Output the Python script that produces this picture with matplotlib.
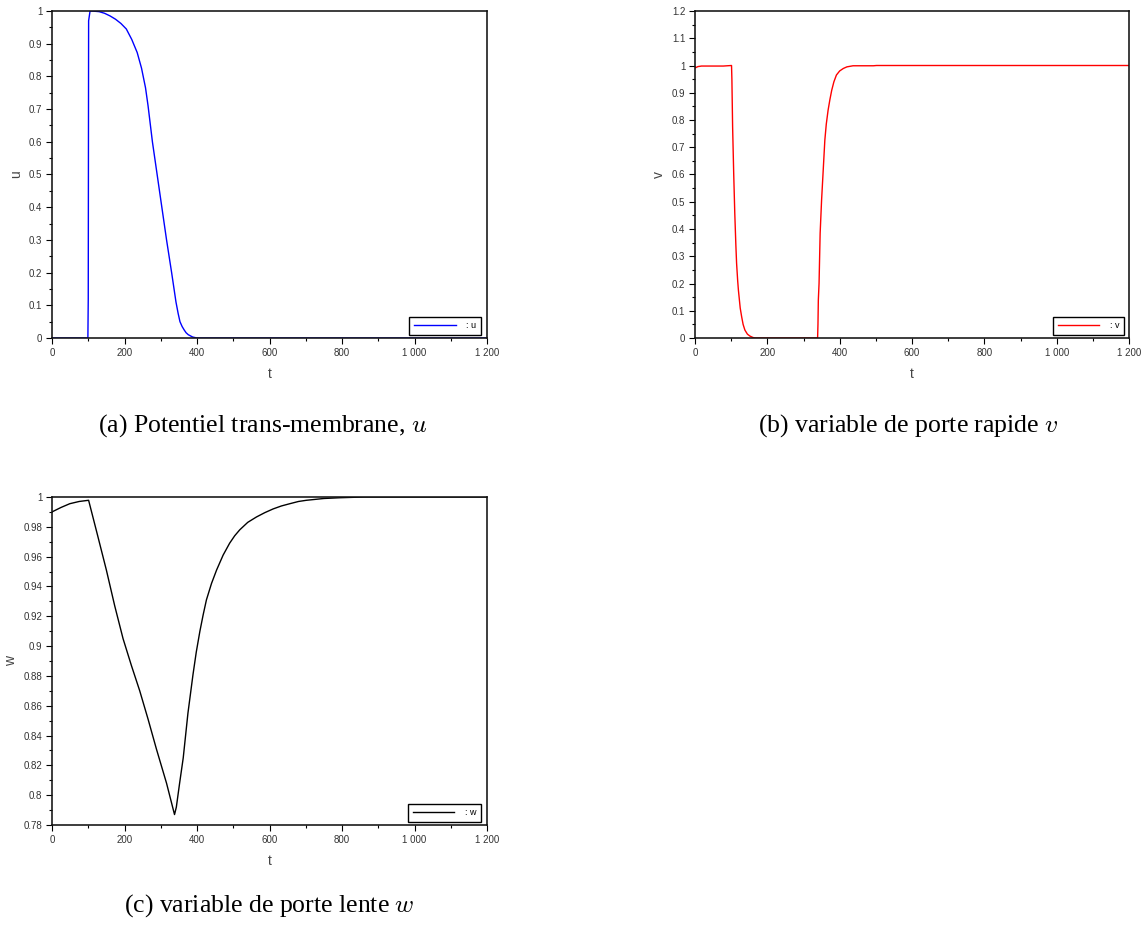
import matplotlib
matplotlib.use("Agg")
import matplotlib.pyplot as plt
from matplotlib.ticker import FixedLocator, MultipleLocator, FuncFormatter

plt.rcParams["mathtext.fontset"] = "cm"

# --- data -------------------------------------------------------------------
t_u = [0, 99, 100, 101, 105, 115, 130, 145, 160, 175, 190, 205, 220, 235, 247,
       258, 265, 277, 290, 303, 316, 330, 342, 348, 353, 359, 365, 370, 376, 388,
       400, 1200]
u_val = [0, 0, 0.12, 0.97, 1.0, 0.9995, 0.998, 0.993, 0.985, 0.975, 0.962, 0.945,
         0.913, 0.873, 0.825, 0.765, 0.71, 0.6, 0.5, 0.4, 0.3, 0.2, 0.11, 0.075,
         0.05, 0.035, 0.024, 0.016, 0.01, 0.003, 0, 0]

t_v = [0, 8, 18, 78, 101, 102, 104, 107, 110, 113, 115, 118, 120, 125, 129, 133,
       138, 145, 152, 160, 166, 339, 340, 341, 343, 346, 350, 355, 359, 363, 368,
       373, 378, 384, 391, 400, 410, 420, 437, 493, 502, 1200]
v_val = [0.991, 0.996, 0.998, 0.998, 1.0, 0.95, 0.775, 0.604, 0.457, 0.34, 0.274,
         0.21, 0.176, 0.11, 0.078, 0.05, 0.029, 0.014, 0.007, 0.002, 0, 0, 0.05,
         0.139, 0.2, 0.384, 0.506, 0.628, 0.726, 0.785, 0.836, 0.875, 0.909, 0.94,
         0.965, 0.98, 0.989, 0.995, 0.999, 0.999, 1.0, 1.0]

t_w = [0, 25, 49, 75, 101, 125, 150, 173, 196, 219, 242, 265, 288, 316, 338, 343,
       352, 362, 375, 389, 398, 408, 417, 426, 440, 454, 472, 490, 504, 518, 540,
       564, 587, 610, 633, 656, 680, 702, 750, 794, 860, 1200]
w_val = [0.990, 0.993, 0.9955, 0.997, 0.9978, 0.975, 0.951, 0.927, 0.905, 0.887,
         0.870, 0.851, 0.831, 0.808, 0.787, 0.792, 0.808, 0.825, 0.855, 0.881,
         0.896, 0.910, 0.921, 0.931, 0.942, 0.951, 0.961, 0.969, 0.974, 0.978,
         0.983, 0.9866, 0.9895, 0.992, 0.994, 0.9955, 0.997, 0.9978, 0.999,
         0.9995, 1.0, 1.0]

x_ticks = [0, 200, 400, 600, 800, 1000, 1200]
x_ticklabels = ["0", "200", "400", "600", "800", "1 000", "1 200"]

captions = [
    "(a) Potentiel trans-membrane, $u$",
    "(b) variable de porte rapide $v$",
    "(c) variable de porte lente $w$",
]

W, H = 1146, 927
fig = plt.figure(figsize=(W / 100, H / 100), dpi=100)


def px_axes(left, top, right, bottom):
    return fig.add_axes([left / W, 1 - bottom / H, (right - left) / W, (bottom - top) / H])


def fmt_plain(v, pos):
    return f"{v:.2f}".rstrip("0").rstrip(".")


def style(ax, ylim, ymajor, yminor, ylabel, leg_anchor):
    ax.set_xlim(0, 1200)
    ax.set_ylim(*ylim)
    ax.xaxis.set_major_locator(FixedLocator(x_ticks))
    ax.set_xticklabels(x_ticklabels)
    ax.xaxis.set_minor_locator(MultipleLocator(100))
    ax.yaxis.set_major_locator(MultipleLocator(ymajor))
    ax.yaxis.set_minor_locator(MultipleLocator(yminor))
    ax.yaxis.set_major_formatter(FuncFormatter(fmt_plain))
    ax.tick_params(which="major", direction="out", length=4, width=0.8,
                   labelsize=7, labelcolor="#333333", pad=3)
    ax.tick_params(which="minor", direction="out", length=2.5, width=0.8)
    for lab in ax.get_xticklabels() + ax.get_yticklabels():
        lab.set_family("Liberation Sans")
    for sp in ax.spines.values():
        sp.set_linewidth(1.15)
        sp.set_color("#111111")
        sp.set_zorder(3)
    ax.set_xlabel("t", fontsize=10, color="#444444", family="Liberation Sans", labelpad=7)
    ax.set_ylabel(ylabel, fontsize=10, color="#444444", family="Liberation Sans", labelpad=4)
    leg = ax.legend(loc="lower right", bbox_to_anchor=leg_anchor, fontsize=6.5,
                    handlelength=4.6, fancybox=False, framealpha=1, edgecolor="black",
                    borderpad=0.5, handletextpad=1.2, borderaxespad=0)
    leg.get_frame().set_linewidth(1.0)
    for txt in leg.get_texts():
        txt.set_family("Liberation Sans")


# (a) u
ax_a = px_axes(52, 11, 487, 338)
ax_a.plot(t_u, u_val, color="#0000ff", lw=1.0, label=": u")
style(ax_a, (0, 1), 0.1, 0.05, "u", ((481 - 52) / 435, 3 / 327))

# (b) v
ax_b = px_axes(695, 11, 1129, 338)
ax_b.plot(t_v, v_val, color="#ff0000", lw=1.0, label=": v")
style(ax_b, (0, 1.2), 0.1, 0.05, "v", ((1124 - 695) / 434, 3 / 327))

# (c) w
ax_c = px_axes(52, 497, 487, 825)
ax_c.plot(t_w, w_val, color="black", lw=1.0, label=": w")
style(ax_c, (0.78, 1.0), 0.02, 0.01, "w", ((481 - 52) / 435, 3 / 328))

# captions
for (cx, cy), text in zip([(263, 426), (908, 426), (269, 906)], captions):
    fig.text(cx / W, 1 - cy / H, text, ha="center", va="center",
             fontsize=18.5, family="Liberation Serif")

fig.savefig("out.png", dpi=100)
